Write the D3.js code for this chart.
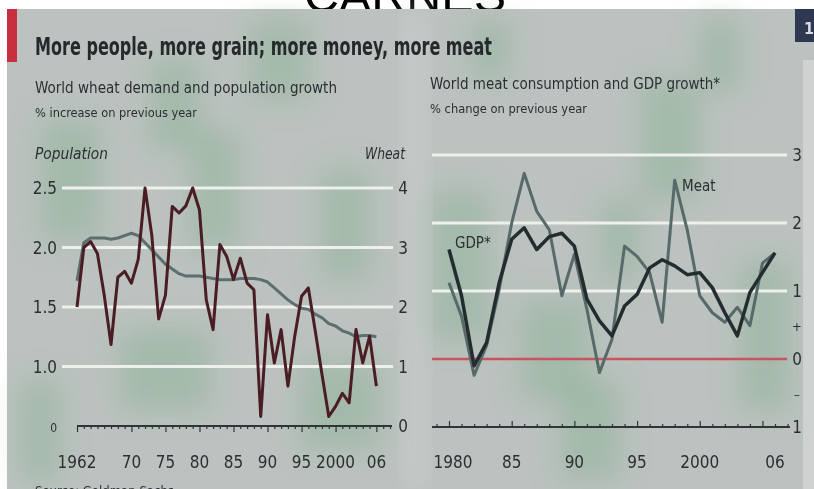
<!DOCTYPE html>
<html>
<head>
<meta charset="utf-8">
<script src="https://cdn.jsdelivr.net/npm/d3@7"></script>
<style>
  html, body { margin: 0; padding: 0; background: #fff; }
  svg { display: block; }
  text { font-family: "Liberation Sans Narrow", "DejaVu Sans Condensed", "Liberation Sans", sans-serif; fill: #2b2f33; }
</style>
</head>
<body>
<svg id="chart" width="814" height="489"></svg>
<script>
// left panel: world wheat demand and population growth, % increase on previous year
const wheatYears = d3.range(1962, 2007);
const wheat = [2.0, 3.0, 3.1, 2.9, 2.2, 1.37, 2.5, 2.6, 2.4, 2.8,
  4.0, 3.2, 1.8, 2.2, 3.69, 3.58, 3.7, 4.0, 3.63, 2.12,
  1.62, 3.05, 2.85, 2.46, 2.82, 2.4, 2.29, 0.16, 1.87, 1.06,
  1.62, 0.67, 1.51, 2.18, 2.32, 1.61, 0.87, 0.16, 0.33, 0.55,
  0.39, 1.62, 1.06, 1.51, 0.67];
const population = [1.72, 2.04, 2.08, 2.08, 2.08, 2.07, 2.08, 2.1, 2.12, 2.1,
  2.04, 1.98, 1.92, 1.86, 1.82, 1.78, 1.76, 1.76, 1.76, 1.75,
  1.74, 1.73, 1.73, 1.73, 1.74, 1.74, 1.74, 1.73, 1.71, 1.66,
  1.61, 1.56, 1.52, 1.49, 1.48, 1.44, 1.41, 1.36, 1.34, 1.3,
  1.28, 1.25, 1.26, 1.26, 1.25];
const popTicks = [0.5, 1.0, 1.5, 2.0, 2.5];
const popTickLabels = ['0', '1.0', '1.5', '2.0', '2.5'];
const wheatTicks = [0, 1, 2, 3, 4];
const leftYearLabels = [1962, 1970, 1975, 1980, 1985, 1990, 1995, 2000, 2006];
const leftYearText = ['1962', '70', '75', '80', '85', '90', '95', '2000', '06'];

// right panel: world meat consumption and GDP growth, % change on previous year
const meatYears = d3.range(1980, 2007);
const meat = [1.12, 0.63, -0.24, 0.2, 1.02, 2.0, 2.73, 2.17, 1.9, 0.93,
  1.54, 0.73, -0.2, 0.29, 1.66, 1.51, 1.27, 0.54, 2.63, 1.9,
  0.93, 0.68, 0.54, 0.76, 0.49, 1.41, 1.56];
const gdp = [1.61, 0.93, -0.1, 0.24, 1.12, 1.76, 1.93, 1.61, 1.8, 1.85,
  1.66, 0.88, 0.56, 0.34, 0.78, 0.95, 1.34, 1.46, 1.37, 1.24,
  1.27, 1.05, 0.68, 0.34, 0.98, 1.27, 1.56];
const rightTicks = [3, 2, 1, 0.5, 0, -0.5, -1];
const rightTickLabels = ['3', '2', '1', '+', '0', '\u2013', '1'];
const rightYearLabels = [1980, 1985, 1990, 1995, 2000, 2006];
const rightYearText = ['1980', '85', '90', '95', '2000', '06'];

const svg = d3.select('#chart');

// big heading above the photo, mostly cut off
svg.append('text')
  .attr('x', 405).attr('y', 12)
  .attr('text-anchor', 'middle')
  .attr('textLength', 202).attr('lengthAdjust', 'spacingAndGlyphs')
  .style('font-family', '"Liberation Sans", Arial, sans-serif')
  .style('font-size', '48px')
  .style('fill', '#000')
  .text('CARNES');

// photo background
const defs = svg.append('defs');
defs.append('filter').attr('id', 'soft')
  .attr('x', '-50%').attr('y', '-50%').attr('width', '200%').attr('height', '200%')
  .append('feGaussianBlur').attr('stdDeviation', 14);

svg.append('rect')
  .attr('x', 7).attr('y', 9).attr('width', 807).attr('height', 480)
  .attr('fill', '#bcc2bf');

const paper = svg.append('g').attr('filter', 'url(#soft)');
const patches = [
  [40, 120, 60, 120], [150, 60, 50, 90], [190, 130, 50, 120], [250, 20, 60, 80],
  [120, 330, 90, 80], [300, 360, 80, 90], [320, 170, 50, 110], [20, 380, 40, 100],
  [430, 190, 60, 150], [520, 300, 70, 100], [640, 80, 60, 120], [700, 20, 40, 70],
  [560, 380, 60, 100], [740, 260, 50, 150], [600, 200, 40, 80], [470, 20, 40, 60]
];
paper.selectAll('rect')
  .data(patches)
  .join('rect')
  .attr('x', (d) => d[0]).attr('y', (d) => d[1])
  .attr('width', (d) => d[2]).attr('height', (d) => d[3])
  .attr('fill', '#8fb39b')
  .attr('opacity', 0.55);

// light gutters between and right of the panels
svg.append('rect').attr('x', 406).attr('y', 9).attr('width', 18).attr('height', 480)
  .attr('fill', '#cfd3d1').attr('opacity', 0.7).attr('filter', 'url(#soft)');
svg.append('rect').attr('x', 803).attr('y', 60).attr('width', 11).attr('height', 429)
  .attr('fill', '#d3d6d5').attr('opacity', 0.8);

// red tag and navy box
svg.append('rect').attr('x', 7).attr('y', 9).attr('width', 10).attr('height', 53)
  .attr('fill', '#c8303f');
svg.append('rect').attr('x', 795).attr('y', 9).attr('width', 19).attr('height', 33)
  .attr('fill', '#2e3850');
svg.append('text').attr('x', 804).attr('y', 34)
  .style('font-size', '16px').style('font-weight', 'bold').style('fill', '#d8dbe4')
  .text('1');

// titles
svg.append('text')
  .attr('x', 35).attr('y', 55)
  .attr('textLength', 457).attr('lengthAdjust', 'spacingAndGlyphs')
  .style('font-size', '25px').style('font-weight', 'bold').style('fill', '#25292c')
  .text('More people, more grain; more money, more meat');

const subtitle = (x, y, len, size, txt, italic) => {
  svg.append('text')
    .attr('x', x).attr('y', y)
    .attr('textLength', len).attr('lengthAdjust', 'spacingAndGlyphs')
    .style('font-size', size + 'px')
    .style('font-style', italic ? 'italic' : 'normal')
    .text(txt);
};
subtitle(35, 93, 302, 16, 'World wheat demand and population growth');
subtitle(35, 117, 162, 12, '% increase on previous year');
subtitle(35, 159, 73, 15, 'Population', true);
subtitle(365, 159, 40, 15, 'Wheat', true);
subtitle(430, 89, 290, 16, 'World meat consumption and GDP growth*');
subtitle(430, 113, 157, 12, '% change on previous year');

// ---- left panel
const xL = d3.scaleLinear().domain([1962, 2008]).range([77, 390]);
const yPop = d3.scaleLinear().domain([0.5, 2.5]).range([426, 188]);
const yWheat = d3.scaleLinear().domain([0, 4]).range([426, 188]);

const left = svg.append('g');

left.selectAll('.grid')
  .data(popTicks.filter((d) => d > 0.5))
  .join('line')
  .attr('class', 'grid')
  .attr('x1', 62).attr('x2', 393)
  .attr('y1', (d) => yPop(d)).attr('y2', (d) => yPop(d))
  .attr('stroke', '#eef0ec').attr('stroke-width', 3);

const axL = left.append('g')
  .attr('transform', `translate(0,${yPop(0.5)})`)
  .call(d3.axisBottom(xL).tickValues(d3.range(1962, 2009)).tickSize(3).tickFormat(''));
axL.select('.domain').attr('stroke', '#2f3538').attr('stroke-width', 2)
  .attr('d', `M${xL(1962)},0H${xL(2008) + 2}`);
axL.selectAll('.tick line').attr('stroke', '#2f3538').attr('stroke-width', 1.2)
  .attr('y2', (d) => (leftYearLabels.includes(d) ? 6 : 3));

left.selectAll('.xlab')
  .data(leftYearLabels)
  .join('text')
  .attr('class', 'xlab')
  .attr('x', (d) => xL(d)).attr('y', 468)
  .attr('text-anchor', 'middle')
  .style('font-size', '17px')
  .text((d, i) => leftYearText[i]);

left.selectAll('.plab')
  .data(popTicks)
  .join('text')
  .attr('class', 'plab')
  .attr('x', 57).attr('y', (d) => yPop(d) + 6)
  .attr('text-anchor', 'end')
  .style('font-size', (d) => (d === 0.5 ? '12px' : '17px'))
  .text((d, i) => popTickLabels[i]);

left.selectAll('.wlab')
  .data(wheatTicks)
  .join('text')
  .attr('class', 'wlab')
  .attr('x', 403).attr('y', (d) => yWheat(d) + 6)
  .attr('text-anchor', 'middle')
  .style('font-size', '17px')
  .text((d) => d);

left.append('path')
  .datum(population)
  .attr('fill', 'none')
  .attr('stroke', '#5c6f6e').attr('stroke-width', 3)
  .attr('stroke-linejoin', 'round')
  .attr('d', d3.line().x((d, i) => xL(wheatYears[i])).y((d) => yPop(d)));

left.append('path')
  .datum(wheat)
  .attr('fill', 'none')
  .attr('stroke', '#4a1c24').attr('stroke-width', 3)
  .attr('stroke-linejoin', 'round')
  .attr('d', d3.line().x((d, i) => xL(wheatYears[i])).y((d) => yWheat(d)));

// ---- right panel
const xR = d3.scaleLinear().domain([1980, 2006]).range([449, 775]);
const yR = d3.scaleLinear().domain([-1, 3]).range([427, 155]);

const right = svg.append('g');

right.selectAll('.grid')
  .data([1, 2, 3])
  .join('line')
  .attr('class', 'grid')
  .attr('x1', 432).attr('x2', 787)
  .attr('y1', (d) => yR(d)).attr('y2', (d) => yR(d))
  .attr('stroke', '#eef0ec').attr('stroke-width', 3);

right.append('line')
  .attr('x1', 432).attr('x2', 787)
  .attr('y1', yR(0)).attr('y2', yR(0))
  .attr('stroke', '#c9545e').attr('stroke-width', 2.5);

const axR = right.append('g')
  .attr('transform', `translate(0,${yR(-1)})`)
  .call(d3.axisBottom(xR).tickValues(d3.range(1979, 2008)).tickSize(3).tickFormat(''));
axR.select('.domain').attr('stroke', '#2f3538').attr('stroke-width', 2)
  .attr('d', `M432,0H790`);
axR.selectAll('.tick line').attr('stroke', '#2f3538').attr('stroke-width', 1.2)
  .attr('y1', (d) => (d % 5 === 0 ? -6 : -3)).attr('y2', 0);

right.selectAll('.xlab')
  .data(rightYearLabels)
  .join('text')
  .attr('class', 'xlab')
  .attr('x', (d) => xR(d) + (d === 1980 ? 4 : 0)).attr('y', 468)
  .attr('text-anchor', 'middle')
  .style('font-size', '17px')
  .text((d, i) => rightYearText[i]);

right.selectAll('.ylab')
  .data(rightTicks)
  .join('text')
  .attr('class', 'ylab')
  .attr('x', 797).attr('y', (d) => yR(d) + 6)
  .attr('text-anchor', 'middle')
  .style('font-size', (d) => (d === 0.5 || d === -0.5 ? '13px' : '17px'))
  .text((d, i) => rightTickLabels[i]);

right.append('path')
  .datum(meat)
  .attr('fill', 'none')
  .attr('stroke', '#58696a').attr('stroke-width', 3)
  .attr('stroke-linejoin', 'round')
  .attr('d', d3.line().x((d, i) => xR(meatYears[i])).y((d) => yR(d)));

right.append('path')
  .datum(gdp)
  .attr('fill', 'none')
  .attr('stroke', '#232c2e').attr('stroke-width', 3.5)
  .attr('stroke-linejoin', 'round')
  .attr('d', d3.line().x((d, i) => xR(meatYears[i])).y((d) => yR(d)));

right.append('text').attr('x', 455).attr('y', 248)
  .style('font-size', '15px').text('GDP*');
right.append('text').attr('x', 682).attr('y', 191)
  .style('font-size', '15px').text('Meat');

// source line, cut at the bottom edge
svg.append('text').attr('x', 35).attr('y', 495)
  .style('font-size', '13px').text('Source: Goldman Sachs');
</script>
</body>
</html>
